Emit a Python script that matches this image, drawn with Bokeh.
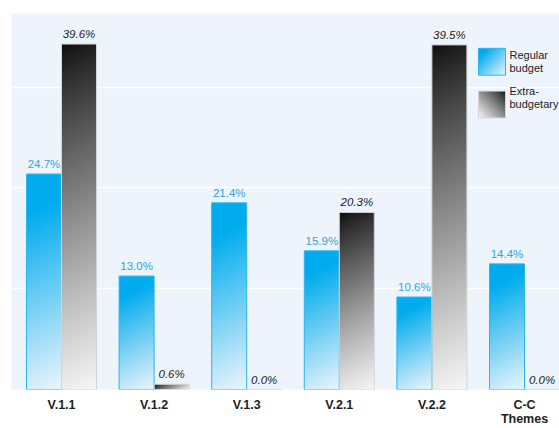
import numpy as np
from bokeh.plotting import figure
from bokeh.models import Range1d, Grid, FixedTicker, LinearAxis
from bokeh.core.properties import value
from bokeh.embed import file_html
from bokeh.resources import INLINE

# ---- data ----
categories = ["V.1.1", "V.1.2", "V.1.3", "V.2.1", "V.2.2", "C-C\nThemes"]
regular = [24.7, 13.0, 21.4, 15.9, 10.6, 14.4]
extra = [39.6, 0.6, 0.0, 20.3, 39.5, 0.0]
regular_labels = [f"{v:.1f}%" for v in regular]
extra_labels = [f"{v:.1f}%" for v in extra]
legend_names = [["Regular", "budget"], ["Extra-", "budgetary"]]

# ---- layout constants (pixels) ----
W, H = 559, 428
BORDER_L, BORDER_T, BORDER_B = 11, 13, 37
FRAME_W, FRAME_H = W - BORDER_L, H - BORDER_T - BORDER_B
PX_PER_CAT = 92.6
FIRST_CENTER_PX = 50.0
PX_PER_PCT = 8.77
BAR_PX = 35.0

X0 = -FIRST_CENTER_PX / PX_PER_CAT
X1 = X0 + FRAME_W / PX_PER_CAT
Y1 = FRAME_H / PX_PER_PCT
BW = BAR_PX / PX_PER_CAT

FONT_NAME = "Liberation Sans"
FONT = value(FONT_NAME)


def px_x(px):  # frame-relative pixel -> data x
    return X0 + px / PX_PER_CAT


def px_y(py):  # frame-relative pixel from top -> data y
    return Y1 - py / PX_PER_PCT


def grad_image(kind, h_px, w_px, k=0.5, flip_u=False):
    h = max(int(round(h_px)), 1)
    w = max(int(round(w_px)), 1)
    v = (np.arange(h) + 0.5) / h
    u = (np.arange(w) + 0.5) / w
    if flip_u:
        u = 1 - u
    V, U = np.meshgrid(v, u, indexing="ij")
    t = (V * h + k * U * w) / (h + k * w)
    arr = np.zeros((h, w, 4), dtype=np.uint8)
    if kind == "blue":
        top = np.array([0, 172, 238], float)
        bot = np.array([236, 245, 252], float)
        s = np.clip((t - 0.18) / 0.82, 0, 1)[..., None]
        col = top + (bot - top) * s
    else:
        top = np.array([12, 12, 12], float)
        bot = np.array([247, 247, 247], float)
        s = (np.clip(t, 0, 1) ** 0.85)[..., None]
        col = top + (bot - top) * s
    arr[..., :3] = np.round(col).astype(np.uint8)
    arr[..., 3] = 255
    arr = np.flipud(arr).copy()
    return arr.view(np.uint32).reshape(h, w)


p = figure(width=W, height=H, output_backend="svg", toolbar_location=None,
           x_range=Range1d(X0, X1), y_range=Range1d(0, Y1),
           x_axis_location=None, y_axis_location=None,
           min_border_left=BORDER_L, min_border_right=0, min_border_top=BORDER_T,
           min_border_bottom=BORDER_B,
           background_fill_color="#EDF4FB", border_fill_color="white",
           outline_line_color=None)

# remove default grids, add white horizontal gridlines
p.center = [r for r in p.center if not isinstance(r, Grid)]
p.add_layout(Grid(dimension=1, ticker=FixedTicker(ticks=[11.55, 23.1, 34.65]),
                  grid_line_color="white", grid_line_width=1.5))

xs = np.arange(len(categories), dtype=float)

# category axis
xaxis = LinearAxis(ticker=FixedTicker(ticks=list(xs)),
                   major_label_overrides={int(i): c for i, c in zip(xs, categories)},
                   axis_line_color=None, major_tick_line_color=None,
                   minor_tick_line_color=None, major_tick_out=0, major_tick_in=0,
                   major_label_standoff=8,
                   major_label_text_font=FONT_NAME, major_label_text_font_size="12.5px",
                   major_label_text_font_style="bold",
                   major_label_text_color="#1E1E1E",
                   major_label_text_line_height=1.0)
p.add_layout(xaxis, "below")

# bars as gradient images
for i, (r, e) in enumerate(zip(regular, extra)):
    if r > 0:
        p.image_rgba(image=[grad_image("blue", r * PX_PER_PCT, BAR_PX)],
                     x=xs[i] - BW, y=0, dw=BW, dh=r)
    if e > 0:
        p.image_rgba(image=[grad_image("grey", e * PX_PER_PCT, BAR_PX)],
                     x=xs[i], y=0, dw=BW, dh=e)

# outlines
p.quad(left=xs - BW, right=xs, bottom=0, top=regular, fill_alpha=0,
       line_color="#2DB4EE", line_width=1)
p.quad(left=xs, right=xs + BW, bottom=0, top=extra, fill_alpha=0,
       line_color="#D4D4D4", line_width=1)

# value labels
p.text(x=xs - BW / 2, y=regular, text=regular_labels, text_font=FONT,
       text_font_size="11.5px", text_color="#2FA6DD", text_align="center",
       text_baseline="bottom", y_offset=-4)
p.text(x=xs + BW / 2, y=extra, text=extra_labels, text_font=FONT,
       text_font_size="11.5px", text_font_style="italic", text_color="#222222",
       text_align="center", text_baseline="bottom", y_offset=-4)

# legend
sq = 27
leg_left = 467
for j, (kind, top_px, text_top) in enumerate([("blue", 35, 36), ("grey", 78, 72)]):
    p.image_rgba(image=[grad_image(kind, sq, sq, k=1.0, flip_u=(kind == "grey"))],
                 x=px_x(leg_left), y=px_y(top_px + sq), dw=sq / PX_PER_CAT,
                 dh=sq / PX_PER_PCT)
    p.quad(left=px_x(leg_left), right=px_x(leg_left + sq), bottom=px_y(top_px + sq),
           top=px_y(top_px), fill_alpha=0,
           line_color="#2DB4EE" if kind == "blue" else "#D4D4D4", line_width=1)
    for li, line in enumerate(legend_names[j]):
        p.text(x=px_x(498), y=px_y(text_top + li * 13),
               text=[line], text_font=FONT, text_font_size="11px",
               text_color="#222222", text_align="left", text_baseline="top")

open("out.html", "w").write(file_html(p, INLINE))
